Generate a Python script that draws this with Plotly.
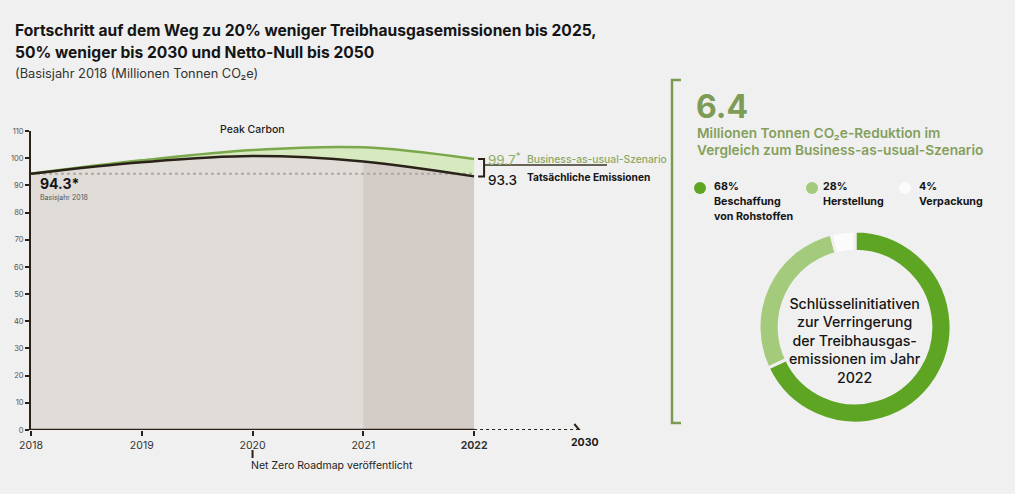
import plotly.graph_objects as go

# ---------------- data ----------------
years = [2018, 2019, 2020, 2021, 2022]
bau = [94.3, 99.2, 103.0, 104.0, 99.7]          # Business-as-usual-Szenario
actual = [94.3, 98.5, 100.8, 98.8, 93.3]        # Tatsächliche Emissionen
base_value = 94.3
y_ticks = [0, 10, 20, 30, 40, 50, 60, 70, 80, 90, 100, 110]
x_labels = ["2018", "2019", "2020", "2021", "<b>2022</b>"]
future_label = "2030"
future_pos = 2023
shares = [68, 28, 4]
share_labels = ["Beschaffung von Rohstoffen", "Herstellung", "Verpackung"]
reduction = "6.4"
roadmap_year = 2020
highlight_year = 2021

# ---------------- style ----------------
W, H = 1015, 494
BG = "#f0f0f0"
FONT = "Inter"
GREEN_LINE = "#7aa84a"
GREEN_FILL = "#d7eabf"
GREEN_TXT = "#849f5c"
DARK = "#2a2118"
PIE_COLORS = ["#5ea524", "#a3cb7b", "#fbfbfb"]


def px(x):
    return x / W


def py(y):
    return 1 - y / H


fig = go.Figure()

# fill under actual (semi transparent so the highlight band shows through)
fig.add_trace(go.Scatter(x=years, y=actual, mode="lines", line=dict(width=0, shape="spline"),
                         fill="tozeroy", fillcolor="rgba(133,107,80,0.15)", hoverinfo="skip",
                         showlegend=False))
# green band between actual and BAU
fig.add_trace(go.Scatter(x=years, y=bau, mode="lines", line=dict(width=0, shape="spline"),
                         fill="tonexty", fillcolor=GREEN_FILL, hoverinfo="skip", showlegend=False))
# cover above BAU with background
fig.add_trace(go.Scatter(x=years, y=[y_ticks[-1]] * len(years), mode="lines",
                         line=dict(width=0), fill="tonexty", fillcolor=BG,
                         hoverinfo="skip", showlegend=False))
# dotted base line
fig.add_trace(go.Scatter(x=[years[0], years[-1]], y=[base_value, base_value], mode="lines",
                         line=dict(color="#aaa9a2", width=2, dash="dot"), hoverinfo="skip",
                         showlegend=False))
# lines
fig.add_trace(go.Scatter(x=years, y=bau, mode="lines",
                         line=dict(color=GREEN_LINE, width=2.5, shape="spline"),
                         hoverinfo="skip", showlegend=False))
fig.add_trace(go.Scatter(x=years, y=actual, mode="lines",
                         line=dict(color=DARK, width=2.5, shape="spline"),
                         hoverinfo="skip", showlegend=False))

# donut
fig.add_trace(go.Pie(values=shares, labels=share_labels, hole=0.79, sort=False,
                     direction="clockwise", rotation=0,
                     marker=dict(colors=PIE_COLORS, line=dict(color=BG, width=3)),
                     textinfo="none", hoverinfo="skip", showlegend=False,
                     domain=dict(x=[px(759), px(951)], y=[py(423), py(231)])))

shapes = []
# highlighted year band (below traces)
shapes.append(dict(type="rect", xref="x", yref="y", x0=highlight_year, x1=years[-1],
                   y0=0, y1=y_ticks[-1], fillcolor="rgb(225,221,220)", line=dict(width=0),
                   layer="below"))
# x axis line: solid until last year, dotted to 2030
shapes.append(dict(type="line", xref="x", yref="y", x0=years[0], x1=years[-1], y0=0, y1=0,
                   line=dict(color=DARK, width=2.5)))
shapes.append(dict(type="line", xref="x", yref="y", x0=years[-1], x1=future_pos - 0.05, y0=0, y1=0,
                   line=dict(color=DARK, width=2, dash="dot")))
shapes.append(dict(type="path", xref="x", yref="y", xsizemode="pixel", ysizemode="pixel",
                   xanchor=future_pos - 0.05, yanchor=0,
                   path="M -5,6 L 0,0 L -5,-6", line=dict(color=DARK, width=2)))
# bracket at last year
y_hi, y_lo = bau[-1], actual[-1]
shapes.append(dict(type="path", xref="x", yref="y", xsizemode="pixel", xanchor=years[-1],
                   path=f"M 4,{y_hi} L 10,{y_hi} L 10,{y_lo} L 4,{y_lo}",
                   line=dict(color=DARK, width=2)))
shapes.append(dict(type="line", xref="x", yref="y", xsizemode="pixel", xanchor=years[-1],
                   x0=10, x1=198, y0=(y_hi + y_lo) / 2 + 1, y1=(y_hi + y_lo) / 2 + 1,
                   line=dict(color="#3b3524", width=1.5)))
# green bracket on the right
shapes.append(dict(type="path", xref="paper", yref="paper",
                   path=f"M {px(681)},{py(80)} L {px(672)},{py(80)} L {px(672)},{py(423)} L {px(681)},{py(423)}",
                   line=dict(color="#7d9a55", width=2.5)))
# roadmap tick
shapes.append(dict(type="line", xref="x", yref="paper", x0=roadmap_year, x1=roadmap_year,
                   y0=py(450), y1=py(458), line=dict(color=DARK, width=2)))
# legend dots
for cx, col in zip([700, 812, 905], PIE_COLORS):
    shapes.append(dict(type="circle", xref="paper", yref="paper", xsizemode="pixel",
                       ysizemode="pixel", xanchor=px(cx), yanchor=py(188),
                       x0=-6, x1=6, y0=-6, y1=6, fillcolor=col, line=dict(width=0)))

ann = []


def text(x, y, t, size, color="#1a1a1a", weight=400, xanchor="left", xref="paper", yref="paper"):
    ann.append(dict(x=x, y=y, xref=xref, yref=yref, text=t, showarrow=False,
                    xanchor=xanchor, yanchor="middle",
                    font=dict(family=FONT, size=size, color=color, weight=weight)))


text(px(13), py(30), "Fortschritt auf dem Weg zu 20% weniger Treibhausgasemissionen bis 2025,", 15.6, "#151515", 700)
text(px(13), py(52), "50% weniger bis 2030 und Netto-Null bis 2050", 15.6, "#151515", 700)
text(px(13), py(73), "(Basisjahr 2018 (Millionen Tonnen CO₂e)", 12.8, "#333333", 400)

text(roadmap_year, py(130), "Peak Carbon", 10.5, "#222222", 500, "center", xref="x")
text(px(38), py(184), f"{base_value}*", 14, "#151515", 700)
text(px(38), py(197), "Basisjahr 2018", 7, "#555555", 400)

text(px(486), py(159), f"{bau[-1]}<sup>*</sup>", 13.5, "#8fae66", 400)
text(px(525), py(159), "Business-as-usual-Szenario", 10.3, "#8aa866", 500)
text(px(486), py(180), f"{actual[-1]}", 13.5, "#151515", 500)
text(px(525), py(177), "Tatsächliche Emissionen", 10.2, "#151515", 700)

text(future_pos, py(442), f"<b>{future_label}</b>", 10.5, "#1a1a1a", 400, "center", xref="x")
text(px(249), py(465), "Net Zero Roadmap veröffentlicht", 10.5, "#222222", 400)

text(px(694), py(106), reduction, 32, "#7f9c56", 700)
text(px(695), py(133), "Millionen Tonnen CO₂e-Reduktion im", 13.7, GREEN_TXT, 600)
text(px(695), py(150), "Vergleich zum Business-as-usual-Szenario", 13.7, GREEN_TXT, 600)

leg_x = [712, 821, 917]
leg_lines = [["68%", "Beschaffung", "von Rohstoffen"], ["28%", "Herstellung"], ["4%", "Verpackung"]]
for lx, lines in zip(leg_x, leg_lines):
    for i, ln in enumerate(lines):
        text(px(lx), py(187 + i * 14.5), ln, 10.7, "#151515", 700)

ann.append(dict(x=px(855), y=py(340), xref="paper", yref="paper",
                text="Schlüsselinitiativen<br>zur Verringerung<br>der Treibhausgas-<br>emissionen im Jahr<br>2022",
                showarrow=False, xanchor="center", yanchor="middle", align="center",
                font=dict(family=FONT, size=14.2, color="#151515", weight=500)))

fig.update_layout(
    width=W, height=H, margin=dict(l=0, r=0, t=0, b=0, autoexpand=False),
    paper_bgcolor=BG, plot_bgcolor=BG,
    font=dict(family=FONT),
    xaxis=dict(domain=[px(31), px(607)], range=[years[0], 2023.2], tickvals=years,
               ticktext=x_labels, ticks="outside", ticklen=5, tickwidth=2, tickcolor=DARK,
               showgrid=False, zeroline=False, showline=False, automargin=False,
               tickfont=dict(family=FONT, size=10.5, color="#333333")),
    yaxis=dict(domain=[py(430), py(131)], range=[0, y_ticks[-1]], tickvals=y_ticks,
               ticks="outside", ticklen=4, tickwidth=1.5, tickcolor=DARK,
               showgrid=False, zeroline=False, showline=True, linecolor=DARK, linewidth=2,
               automargin=False,
               tickfont=dict(family=FONT, size=7.5, color="#555555")),
    shapes=shapes, annotations=ann,
)

fig.write_html("out.html")
